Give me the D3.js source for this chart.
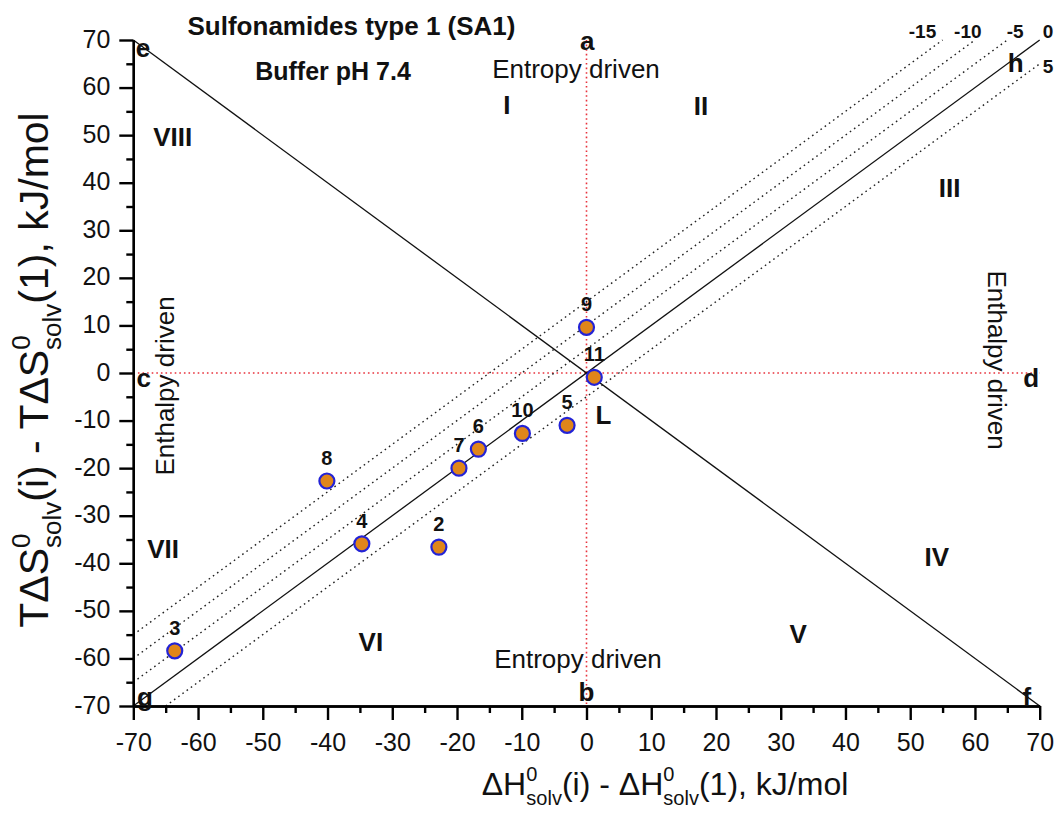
<!DOCTYPE html>
<html><head><meta charset="utf-8">
<script src="https://cdn.jsdelivr.net/npm/d3@7"></script>
<style>body{margin:0;background:#fff}svg{display:block;font-family:"Liberation Sans",Arial,sans-serif}</style>
</head><body><svg id="c" width="1060" height="814"></svg>
<script>
// ---- data ----
const ids = ["2","3","4","5","6","7","8","9","10","11"];
const dH  = [-22.8,-63.6,-34.7,-3.0,-16.7,-19.7,-40.1,0.0,-9.9,1.2];
const TdS = [-36.6,-58.4,-35.9,-11.0,-16.0,-20.0,-22.7,9.6,-12.7,-0.9];
const majorTicks = [-70,-60,-50,-40,-30,-20,-10,0,10,20,30,40,50,60,70];
const minorTicks = [-65,-55,-45,-35,-25,-15,-5,5,15,25,35,45,55,65];
const dGLevels = [-15,-10,-5,5];      // dotted iso-ΔG lines
const dGLabels = ["-15","-10","-5","0","5"];
const dGLabX = [51.9,58.9,66.2,71.3,71.3];
const dGLabY = [70.4,70.4,70.4,70.4,63.1];
const regions = ["I","II","III","IV","V","VI","VII","VIII"];
const regionX = [-12.3,17.7,56.1,54.1,32.7,-33.3,-65.4,-63.9];
const regionY = [56.5,56.3,38.9,-38.5,-54.7,-56.5,-37.0,49.6];
const corners = ["a","e","h","c","d","g","f","b","L"];
const cornerX = [0.1,-68.5,66.3,-68.4,68.7,-68.2,68.0,0.0,2.6];
const cornerY = [69.8,68.3,65.3,-1.0,-1.0,-68.1,-68.1,-67.0,-8.8];

const svg = d3.select("#c");
const x = d3.scaleLinear().domain([-70,70]).range([133.3,1039.7]);
const y = d3.scaleLinear().domain([-70,70]).range([706,40]);

// ---- guide lines ----
const g = svg.append("g");
g.append("line").attr("x1",x(0)).attr("x2",x(0)).attr("y1",y(70)).attr("y2",y(-70))
  .attr("stroke","#e8323c").attr("stroke-width",1.6).attr("stroke-dasharray","1.6,3");
g.append("line").attr("x1",x(-70)).attr("x2",x(70)).attr("y1",y(0)).attr("y2",y(0))
  .attr("stroke","#e8323c").attr("stroke-width",1.6).attr("stroke-dasharray","1.6,3");
// solid diagonals
g.append("line").attr("x1",x(-70)).attr("y1",y(-70)).attr("x2",x(70)).attr("y2",y(70))
  .attr("stroke","#111").attr("stroke-width",1.3);
g.append("line").attr("x1",x(-70)).attr("y1",y(70)).attr("x2",x(70)).attr("y2",y(-70))
  .attr("stroke","#111").attr("stroke-width",1.3);
// dotted iso-ΔG lines: TΔS = ΔH - ΔG
dGLevels.forEach(c => {
  const x1 = Math.max(-70, -70 + c), y1 = x1 - c;
  const x2 = Math.min(70, 70 + c), y2 = x2 - c;
  g.append("line").attr("x1",x(x1)).attr("y1",y(y1)).attr("x2",x(x2)).attr("y2",y(y2))
    .attr("stroke","#222").attr("stroke-width",1.4).attr("stroke-dasharray","1.6,3.6");
});

// ---- axes ----
const fmt = d => String(d);
const axStyle = sel => {
  sel.selectAll("path.domain").attr("stroke","#000").attr("stroke-width",2.4);
  sel.selectAll(".tick line").attr("stroke","#000").attr("stroke-width",2.4);
  sel.selectAll(".tick text").attr("font-size",25).attr("fill","#111")
     .attr("font-family","'Liberation Sans',Arial,sans-serif");
};
const xa = svg.append("g").attr("transform",`translate(0,${y(-70)})`)
  .call(d3.axisBottom(x).tickValues(majorTicks).tickSize(14).tickPadding(13).tickSizeOuter(0).tickFormat(fmt));
axStyle(xa);
const xm = svg.append("g").attr("transform",`translate(0,${y(-70)})`)
  .call(d3.axisBottom(x).tickValues(minorTicks).tickSize(7).tickSizeOuter(0).tickFormat(""));
axStyle(xm);
const ya = svg.append("g").attr("transform",`translate(${x(-70)},0)`)
  .call(d3.axisLeft(y).tickValues(majorTicks).tickSize(14).tickPadding(9).tickSizeOuter(0).tickFormat(fmt));
axStyle(ya);
ya.selectAll(".tick text").attr("dy","0.28em");
const ym = svg.append("g").attr("transform",`translate(${x(-70)},0)`)
  .call(d3.axisLeft(y).tickValues(minorTicks).tickSize(7).tickSizeOuter(0).tickFormat(""));
axStyle(ym);

// ---- axis titles ----
const xt = svg.append("text").attr("x",665).attr("y",795).attr("text-anchor","middle")
  .attr("font-size",32).attr("fill","#111");
xt.append("tspan").text("ΔH");
xt.append("tspan").attr("font-size",20).attr("dy",-14).text("0");
xt.append("tspan").attr("font-size",20).attr("dx",-11).attr("dy",24).text("solv");
xt.append("tspan").attr("dy",-10).text("(i) - ΔH");
xt.append("tspan").attr("font-size",20).attr("dy",-14).text("0");
xt.append("tspan").attr("font-size",20).attr("dx",-11).attr("dy",24).text("solv");
xt.append("tspan").attr("dy",-10).text("(1), kJ/mol");

const yt = svg.append("text").attr("transform","translate(48,370) rotate(-90)")
  .attr("text-anchor","middle").attr("font-size",41).attr("fill","#111");
yt.append("tspan").text("TΔS");
yt.append("tspan").attr("font-size",26).attr("dy",-18).text("0");
yt.append("tspan").attr("font-size",26).attr("dx",-14.5).attr("dy",31).text("solv");
yt.append("tspan").attr("dy",-13).text("(i) - TΔS");
yt.append("tspan").attr("font-size",26).attr("dy",-18).text("0");
yt.append("tspan").attr("font-size",26).attr("dx",-14.5).attr("dy",31).text("solv");
yt.append("tspan").attr("dy",-13).text("(1), kJ/mol");

// ---- annotations ----
svg.append("text").attr("x",351.5).attr("y",35).attr("text-anchor","middle")
  .attr("font-size",26).attr("font-weight","bold").attr("fill","#111").text("Sulfonamides type 1 (SA1)");
svg.append("text").attr("x",333).attr("y",80).attr("text-anchor","middle")
  .attr("font-size",25).attr("font-weight","bold").attr("fill","#111").text("Buffer pH 7.4");
svg.append("text").attr("x",576).attr("y",78).attr("text-anchor","middle")
  .attr("font-size",26).attr("fill","#111").text("Entropy driven");
svg.append("text").attr("x",578).attr("y",668).attr("text-anchor","middle")
  .attr("font-size",26).attr("fill","#111").text("Entropy driven");
svg.append("text").attr("transform","translate(174,386) rotate(-90)").attr("text-anchor","middle")
  .attr("font-size",26).attr("fill","#111").text("Enthalpy driven");
svg.append("text").attr("transform","translate(988,360) rotate(90)").attr("text-anchor","middle")
  .attr("font-size",26).attr("fill","#111").text("Enthalpy driven");

svg.selectAll("text.region").data(regions).join("text").attr("class","region")
  .attr("x",(d,i)=>x(regionX[i])).attr("y",(d,i)=>y(regionY[i])).attr("dy","0.36em")
  .attr("text-anchor","middle").attr("font-size",26).attr("font-weight","bold").attr("fill","#111").text(d=>d);
svg.selectAll("text.corner").data(corners).join("text").attr("class","corner")
  .attr("x",(d,i)=>x(cornerX[i])).attr("y",(d,i)=>y(cornerY[i])).attr("dy","0.36em")
  .attr("text-anchor","middle").attr("font-size",26).attr("font-weight","bold").attr("fill","#111").text(d=>d);
svg.selectAll("text.dg").data(dGLabels).join("text").attr("class","dg")
  .attr("x",(d,i)=>x(dGLabX[i])).attr("y",(d,i)=>y(dGLabY[i]))
  .attr("text-anchor","middle").attr("font-size",19).attr("font-weight","bold").attr("fill","#111").text(d=>d);

// ---- points ----
const pts = ids.map((id,i)=>({id, x:dH[i], y:TdS[i]}));
svg.selectAll("circle.pt").data(pts).join("circle").attr("class","pt")
  .attr("cx",d=>x(d.x)).attr("cy",d=>y(d.y)).attr("r",7.5)
  .attr("fill","#e0861a").attr("stroke","#2323d6").attr("stroke-width",2.2);
svg.selectAll("text.pl").data(pts).join("text").attr("class","pl")
  .attr("x",d=>x(d.x)).attr("y",d=>y(d.y)-16)
  .attr("text-anchor","middle").attr("font-size",20).attr("font-weight","bold").attr("fill","#111").text(d=>d.id);
</script></body></html>
